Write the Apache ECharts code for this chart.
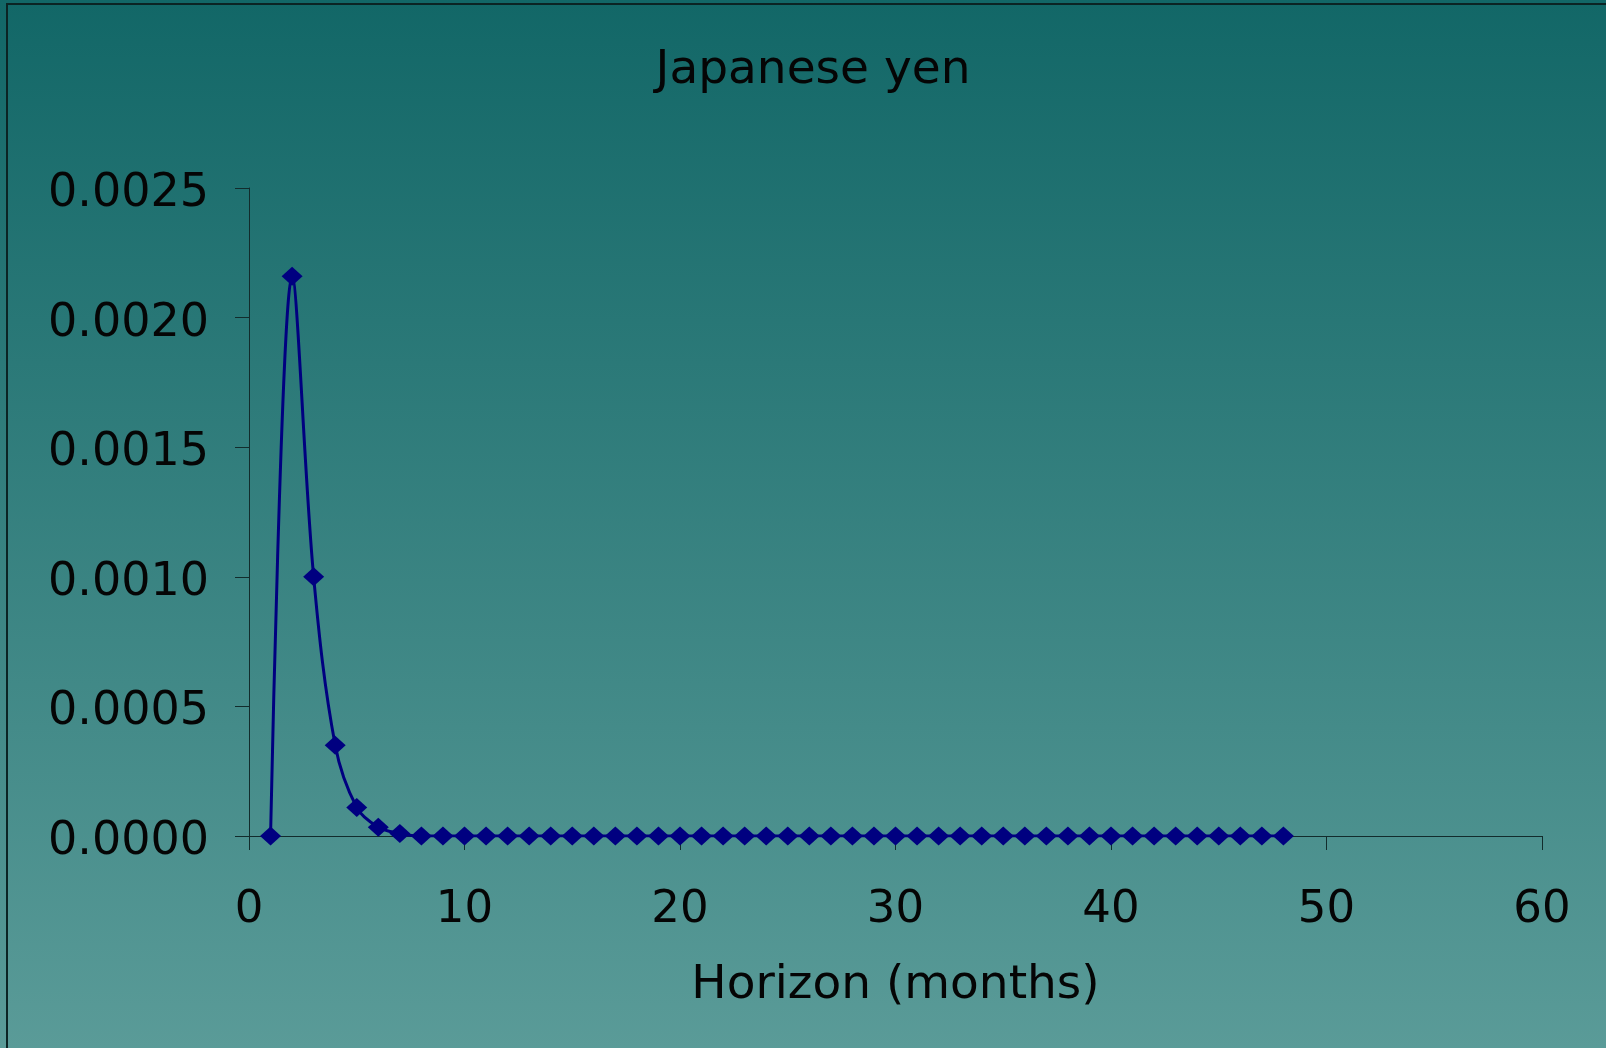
<!DOCTYPE html>
<html>
<head>
<meta charset="utf-8">
<title>Japanese yen</title>
<script src="https://cdn.jsdelivr.net/npm/echarts@6/dist/echarts.min.js"></script>
<style>
  html, body { margin: 0; padding: 0; }
  #chart { width: 1606px; height: 1048px; }
</style>
</head>
<body>
<div id="chart"></div>
<script>
// Horizon in months, 1..48
const horizons = [
  1, 2, 3, 4, 5, 6, 7, 8, 9, 10, 11, 12, 13, 14, 15, 16,
  17, 18, 19, 20, 21, 22, 23, 24, 25, 26, 27, 28, 29, 30, 31, 32,
  33, 34, 35, 36, 37, 38, 39, 40, 41, 42, 43, 44, 45, 46, 47, 48
];
// Response at each horizon
const values = [
  0, 0.00216, 0.00100, 0.00035, 0.00011, 0.000034, 0.00001, 0,
  0, 0, 0, 0, 0, 0, 0, 0,
  0, 0, 0, 0, 0, 0, 0, 0,
  0, 0, 0, 0, 0, 0, 0, 0,
  0, 0, 0, 0, 0, 0, 0, 0,
  0, 0, 0, 0, 0, 0, 0, 0
];
const xTicks = [0, 10, 20, 30, 40, 50, 60];
const yTicks = [0, 0.0005, 0.0010, 0.0015, 0.0020, 0.0025];

const points = horizons.map((h, i) => [h, values[i]]);

const FONT = '"DejaVu Sans", Verdana, sans-serif';
const axisColor = '#122c2c';

const chart = echarts.init(document.getElementById('chart'), null, { renderer: 'canvas' });
chart.setOption({
  animation: false,
  backgroundColor: {
    type: 'linear', x: 0, y: 0, x2: 0, y2: 1,
    colorStops: [
      { offset: 0, color: '#126767' },
      { offset: 1, color: '#5a9b98' }
    ]
  },
  graphic: [{
    type: 'rect',
    shape: { x: 7, y: 4, width: 1700, height: 1100 },
    style: { fill: 'none', stroke: '#0b2424', lineWidth: 2 },
    silent: true
  }],
  title: {
    text: 'Japanese yen',
    left: 808,
    top: 42,
    textAlign: 'center',
    textStyle: { fontFamily: FONT, fontSize: 47, fontWeight: 'normal', color: '#050505' }
  },
  grid: { left: 249, right: 64, top: 188, bottom: 212, containLabel: false },
  xAxis: {
    type: 'value',
    min: xTicks[0],
    max: xTicks[xTicks.length - 1],
    interval: 10,
    name: 'Horizon (months)',
    nameLocation: 'middle',
    nameGap: 126,
    nameTextStyle: { fontFamily: FONT, fontSize: 47, color: '#050505' },
    axisLine: { show: true, onZero: false, lineStyle: { color: axisColor, width: 1 } },
    axisTick: { show: true, length: 14, inside: false, lineStyle: { color: axisColor, width: 1 } },
    axisLabel: {
      margin: 52,
      fontFamily: FONT, fontSize: 45, color: '#050505',
      formatter: v => String(v)
    },
    splitLine: { show: false }
  },
  yAxis: {
    type: 'value',
    min: yTicks[0],
    max: yTicks[yTicks.length - 1],
    interval: 0.0005,
    axisLine: { show: true, lineStyle: { color: axisColor, width: 1 } },
    axisTick: { show: true, length: 14, inside: false, lineStyle: { color: axisColor, width: 1 } },
    axisLabel: {
      margin: 40,
      fontFamily: FONT, fontSize: 46, color: '#050505',
      formatter: v => '{v|' + v.toFixed(4) + '}',
      rich: {
        v: { fontFamily: FONT, fontSize: 46, color: '#050505', padding: [12, 0, 0, 0] }
      }
    },
    splitLine: { show: false }
  },
  series: [{
    type: 'line',
    data: points,
    smooth: 0.35,
    symbol: 'diamond',
    symbolSize: [21, 19],
    showAllSymbol: true,
    lineStyle: { color: '#000080', width: 3 },
    itemStyle: { color: '#000080' },
    z: 3
  }]
});
</script>
</body>
</html>
